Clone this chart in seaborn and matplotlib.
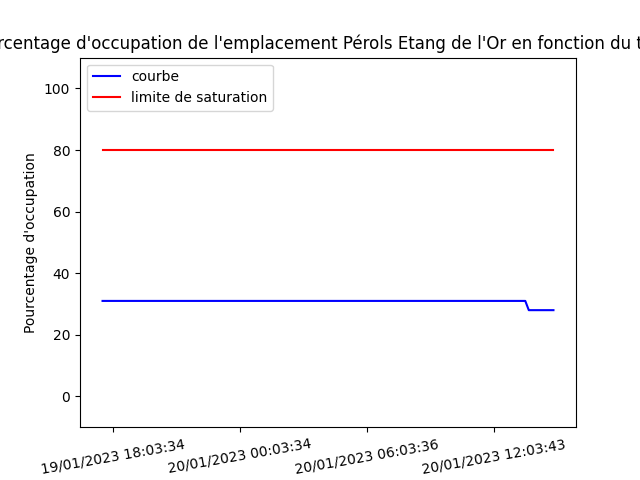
import matplotlib
matplotlib.use("Agg")
import matplotlib.pyplot as plt
import seaborn as sns

# occupation samples (~every 10 min) from 19/01/2023 17:33 to 20/01/2023 14:53
occupation = [31] * 121 + [28] * 8
saturation = [80] * len(occupation)
sample_idx = list(range(len(occupation)))

tick_pos = [3, 39, 75, 111]
tick_labels = ["19/01/2023 18:03:34", "20/01/2023 00:03:34",
               "20/01/2023 06:03:36", "20/01/2023 12:03:43"]

fig, ax = plt.subplots(figsize=(6.4, 4.8), dpi=100)
sns.lineplot(x=sample_idx, y=occupation, color="blue", label="courbe", ax=ax)
sns.lineplot(x=sample_idx, y=saturation, color="red", label="limite de saturation", ax=ax)
ax.set_ylim(-10, 110)
ax.set_xticks(tick_pos)
ax.set_xticklabels(tick_labels, rotation=10)
ax.set_ylabel("Pourcentage d'occupation")
ax.set_title("Pourcentage d'occupation de l'emplacement Pérols Etang de l'Or en fonction du temps")
ax.legend(loc="upper left")

fig.savefig("out.png", dpi=100)
